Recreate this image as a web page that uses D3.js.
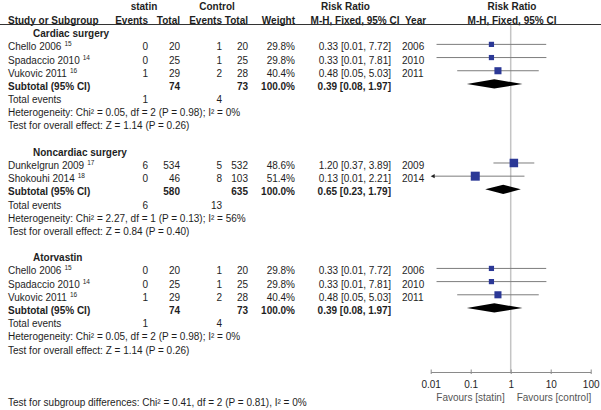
<!DOCTYPE html>
<html>
<head>
<meta charset="utf-8">
<script src="https://cdn.jsdelivr.net/npm/d3@7"></script>
<style>
  html, body { margin: 0; padding: 0; background: #fff; }
  svg { display: block; font-family: "Liberation Sans", Arial, Helvetica, sans-serif; }
</style>
</head>
<body>
<script>
// ---------------- DATA ----------------
const groups = ["Cardiac surgery", "Noncardiac surgery", "Atorvastin"];
const studyNames = ["Chello 2006", "Spadaccio 2010", "Vukovic 2011", "Dunkelgrun 2009", "Shokouhi 2014", "Chello 2006", "Spadaccio 2010", "Vukovic 2011"];
const studyRefs = ["15", "14", "16", "17", "18", "15", "14", "16"];
const studyGroup = [0, 0, 0, 1, 1, 2, 2, 2];
const statinEvents = [0, 0, 1, 6, 0, 0, 0, 1];
const statinTotal = [20, 25, 29, 534, 46, 20, 25, 29];
const controlEvents = [1, 1, 2, 5, 8, 1, 1, 2];
const controlTotal = [20, 25, 28, 532, 103, 20, 25, 28];
const weights = [29.8, 29.8, 40.4, 48.6, 51.4, 29.8, 29.8, 40.4];
const riskRatio = [0.33, 0.33, 0.48, 1.20, 0.13, 0.33, 0.33, 0.48];
const ciLower = [0.01, 0.01, 0.05, 0.37, 0.01, 0.01, 0.01, 0.05];      // as printed
const ciUpper = [7.72, 7.81, 5.03, 3.89, 2.21, 7.72, 7.81, 5.03];
const ciLowerDrawn = [0.014, 0.014, 0.046, 0.37, 0.008, 0.014, 0.014, 0.046]; // as drawn
const years = [2006, 2010, 2011, 2009, 2014, 2006, 2010, 2011];

const subStatinTotal = [74, 580, 74];
const subControlTotal = [73, 635, 73];
const subWeight = ["100.0%", "100.0%", "100.0%"];
const subRR = [0.39, 0.65, 0.39];
const subLower = [0.08, 0.23, 0.08];
const subUpper = [1.97, 1.79, 1.97];
const totEventsStatin = [1, 6, 1];
const totEventsControl = [4, 13, 4];
const hetChi2 = ["0.05", "2.27", "0.05"];
const hetDf = [2, 1, 2];
const hetP = ["0.98", "0.13", "0.98"];
const hetI2 = [0, 56, 0];
const effZ = ["1.14", "0.84", "1.14"];
const effP = ["0.26", "0.40", "0.26"];

const axisTicks = [0.01, 0.1, 1, 10, 100];
const axisTickLabels = ["0.01", "0.1", "1", "10", "100"];
const favourLabels = ["Favours [statin]", "Favours [control]"];
const subgroupTest = "Test for subgroup differences: Chi\u00B2 = 0.41, df = 2 (P = 0.81), I\u00B2 = 0%";

// ---------------- LAYOUT ----------------
const W = 601, H = 410;
const svg = d3.select("body").append("svg").attr("width", W).attr("height", H);
svg.append("rect").attr("width", W).attr("height", H).attr("fill", "#fff");

const FS = 10;
const textCol = "#1e1e1e";
const rowY = d3.scaleLinear().domain([0, 24]).range([33.7, 350]);
const x = d3.scaleLog().domain([0.01, 100]).range([430.7, 590.7]);
const side = d3.scaleLinear().domain([0, 100]).range([0, 17.5]);

const col = { name: 8, heading: 33, sE: 148, sT: 180, cE: 222, cT: 248, w: 295, rr: 391, yr: 402 };

function txt(xp, yc, s, anchor, bold, color) {
  return svg.append("text")
    .attr("x", xp).attr("y", yc).attr("dy", "0.35em")
    .attr("text-anchor", anchor || "start")
    .attr("font-size", FS)
    .attr("font-weight", bold ? "bold" : "normal")
    .attr("fill", color || textCol)
    .text(s);
}
const fmt2 = d3.format(".2f");
const ciText = (r, l, u) => `${fmt2(r)} [${fmt2(l)}, ${fmt2(u)}]`;

// Headers
const h1 = rowY(-2) - 0.8, h2 = rowY(-1) - 0.5;
txt(144, h1, "statin", "middle", true);
txt(217, h1, "Control", "middle", true);
txt(345.5, h1, "Risk Ratio", "middle", true);
txt(512, h1, "Risk Ratio", "middle", true);
txt(col.name, h2, "Study or Subgroup", "start", true);
txt(col.sE, h2, "Events", "end", true);
txt(col.sT, h2, "Total", "end", true);
txt(col.cE, h2, "Events", "end", true);
txt(col.cT, h2, "Total", "end", true);
txt(col.w, h2, "Weight", "end", true);
txt(399.5, h2, "M-H, Fixed, 95% CI", "end", true);
txt(405, h2, "Year", "start", true);
txt(512, h2, "M-H, Fixed, 95% CI", "middle", true);

svg.append("line").attr("x1", 0).attr("x2", W).attr("y1", 24.5).attr("y2", 24.5)
  .attr("stroke", "#333").attr("stroke-width", 1);

const axisY = 372;

// line of no effect
svg.append("line").attr("x1", x(1)).attr("x2", x(1)).attr("y1", 25).attr("y2", axisY)
  .attr("stroke", "#c4c4c4").attr("stroke-width", 1.5);

const marks = svg.append("g");
let line = 0;
groups.forEach((g, gi) => {
  txt(col.heading, rowY(line), g, "start", true);
  line++;
  studyNames.forEach((n, i) => {
    if (studyGroup[i] !== gi) return;
    const yc = rowY(line);
    const t = txt(col.name, yc, n, "start", false);
    t.append("tspan").attr("dx", 3).attr("dy", -4).attr("font-size", 6.5).text(studyRefs[i]);
    txt(col.sE, yc, statinEvents[i], "end");
    txt(col.sT, yc, statinTotal[i], "end");
    txt(col.cE, yc, controlEvents[i], "end");
    txt(col.cT, yc, controlTotal[i], "end");
    txt(col.w, yc, weights[i].toFixed(1) + "%", "end");
    txt(col.rr, yc, ciText(riskRatio[i], ciLower[i], ciUpper[i]), "end");
    txt(col.yr, yc, years[i], "start");
    const my = yc - 2.5;
    const lo = ciLowerDrawn[i];
    const clipped = lo < 0.01;
    marks.append("line")
      .attr("x1", clipped ? x(0.01) + 3 : x(lo)).attr("x2", x(ciUpper[i]))
      .attr("y1", my).attr("y2", my)
      .attr("stroke", "#7d7d7d").attr("stroke-width", 1);
    if (clipped) {
      const ax = x(0.01);
      marks.append("path")
        .attr("d", `M${ax},${my} L${ax + 4},${my - 2.2} L${ax + 4},${my + 2.2} Z`)
        .attr("fill", "#222");
    }
    const s = side(weights[i]);
    marks.append("rect")
      .attr("x", x(riskRatio[i]) - s / 2).attr("y", my - s / 2)
      .attr("width", s).attr("height", s)
      .attr("fill", "#2b3896");
    line++;
  });
  const ys = rowY(line);
  txt(col.name, ys, "Subtotal (95% CI)", "start", true);
  txt(col.sT, ys, subStatinTotal[gi], "end", true);
  txt(col.cT, ys, subControlTotal[gi], "end", true);
  txt(col.w, ys, subWeight[gi], "end", true);
  txt(col.rr, ys, ciText(subRR[gi], subLower[gi], subUpper[gi]), "end", true);
  const dy = ys - 2.5, hh = 4.6;
  marks.append("path")
    .attr("d", `M${x(subLower[gi])},${dy} L${x(subRR[gi])},${dy - hh} L${x(subUpper[gi])},${dy} L${x(subRR[gi])},${dy + hh} Z`)
    .attr("fill", "#000");
  line++;
  const yt = rowY(line);
  txt(col.name, yt, "Total events", "start");
  txt(col.sE, yt, totEventsStatin[gi], "end");
  txt(col.cE, yt, totEventsControl[gi], "end");
  line++;
  txt(col.name, rowY(line), `Heterogeneity: Chi\u00B2 = ${hetChi2[gi]}, df = ${hetDf[gi]} (P = ${hetP[gi]}); I\u00B2 = ${hetI2[gi]}%`, "start");
  line++;
  txt(col.name, rowY(line), `Test for overall effect: Z = ${effZ[gi]} (P = ${effP[gi]})`, "start");
  line++;
  line++;
});

const axis = d3.axisBottom(x)
  .tickValues(axisTicks)
  .tickFormat((d, i) => axisTickLabels[i])
  .tickSizeInner(2).tickSizeOuter(0).tickPadding(7);
const ag = svg.append("g").attr("transform", `translate(0,${axisY})`).call(axis);
ag.select(".domain").attr("stroke", "#8a8a8a");
ag.selectAll(".tick line").attr("y1", -2.5).attr("stroke", "#8a8a8a");
ag.selectAll(".tick text").attr("font-size", FS).attr("fill", textCol)
  .attr("font-family", '"Liberation Sans", Arial, sans-serif');

txt(x(1) - 6, 397.3, favourLabels[0], "end", false, "#555");
txt(x(1) + 6, 397.3, favourLabels[1], "start", false, "#555");

txt(col.name, 402, subgroupTest, "start");
</script>
</body>
</html>
